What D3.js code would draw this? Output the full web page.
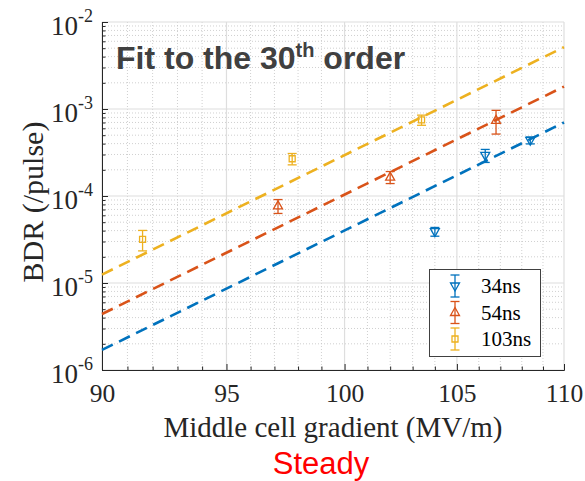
<!DOCTYPE html>
<html><head><meta charset="utf-8">
<script src="https://cdn.jsdelivr.net/npm/d3@7"></script>
<style>body{margin:0;background:#fff}</style>
</head><body>
<svg id="chart" width="585" height="481"></svg>
<script>
// Breakdown rate vs. middle-cell gradient for three pulse lengths
const seriesNames = ["34ns", "54ns", "103ns"];
const seriesColors = ["#0072BD", "#D95319", "#EDB120"];
const seriesMarkers = ["down", "up", "square"];

const gradient34 = [104.0, 106.3, 108.4];
const bdr34 = [3.9e-5, 2.93e-4, 4.37e-4];
const err34 = [4.5e-6, 5e-5, 4e-5];

const gradient54 = [97.15, 102.0, 106.8];
const bdr54 = [7.7e-5, 1.65e-4, 7.4e-4];
const err54 = [1.4e-5, 2.6e-5, 2.25e-4];

const gradient103 = [91.6, 97.75, 103.4];
const bdr103 = [3.18e-5, 2.68e-4, 7.5e-4];
const err103 = [8.4e-6, 4e-5, 1e-4];

// Power-law fits: BDR = coefficient * (E / 90)^order
const fitOrder = 30;
const fitCoef = [1.7e-6, 4.4e-6, 1.25e-5];
const fitRange = [90, 110];

const xTicks = [90, 95, 100, 105, 110];
const yExponents = [-6, -5, -4, -3, -2];

const series = seriesNames.map((name, i) => ({
  name, color: seriesColors[i], marker: seriesMarkers[i], coef: fitCoef[i],
  points: [[gradient34, bdr34, err34], [gradient54, bdr54, err54], [gradient103, bdr103, err103]][i]
    .reduce((acc, arr, k) => { arr.forEach((v, j) => { acc[j] = acc[j] || {}; acc[j][["x","y","e"][k]] = v; }); return acc; }, [])
}));

const svg = d3.select("#chart");
svg.append("rect").attr("width", 585).attr("height", 481).attr("fill", "#fff");

const L = 102, R = 564, T = 22, B = 370;
const x = d3.scaleLog().domain([90, 110]).range([L, R]);
const y = d3.scaleLog().domain([1e-6, 1e-2]).range([B, T]);

const serif = "'Liberation Serif','Times New Roman',serif";
const sans = "'Liberation Sans',Arial,sans-serif";

// minor values
const xMinor = d3.range(91, 110).filter(v => !xTicks.includes(v));
const yMinor = [];
yExponents.slice(0, -1).forEach(e => { for (let m = 2; m <= 9; m++) yMinor.push(m * Math.pow(10, e)); });
const yMajor = yExponents.map(e => Math.pow(10, e));

// grid
const grid = svg.append("g");
grid.selectAll(".gxm").data(xMinor).join("line")
  .attr("x1", d => x(d)).attr("x2", d => x(d)).attr("y1", T).attr("y2", B)
  .attr("stroke", "#c4c4c4").attr("stroke-width", 0.8).attr("stroke-dasharray", "1,2");
grid.selectAll(".gym").data(yMinor).join("line")
  .attr("x1", L).attr("x2", R).attr("y1", d => y(d)).attr("y2", d => y(d))
  .attr("stroke", "#c4c4c4").attr("stroke-width", 0.8).attr("stroke-dasharray", "1,2");
grid.selectAll(".gx").data(xTicks).join("line")
  .attr("x1", d => x(d)).attr("x2", d => x(d)).attr("y1", T).attr("y2", B)
  .attr("stroke", "#dedede").attr("stroke-width", 1.2);
grid.selectAll(".gy").data(yMajor).join("line")
  .attr("x1", L).attr("x2", R).attr("y1", d => y(d)).attr("y2", d => y(d))
  .attr("stroke", "#dedede").attr("stroke-width", 1.2);

// axes
const axisColor = "#262626";
const xAxis = d3.axisBottom(x).tickValues(xTicks).tickFormat(d3.format("d")).tickSize(-6).tickPadding(14);
const gx = svg.append("g").attr("transform", `translate(0,${B})`).call(xAxis);
gx.select(".domain").attr("stroke", axisColor);
gx.selectAll(".tick line").attr("stroke", axisColor);
gx.selectAll(".tick text").attr("font-family", serif).attr("font-size", 25.5).attr("fill", "#262626").attr("dy", "0.71em");
const gxm = svg.append("g").attr("transform", `translate(0,${B})`)
  .call(d3.axisBottom(x).tickValues(xMinor).tickFormat("").tickSize(-3.5));
gxm.select(".domain").remove();
gxm.selectAll(".tick line").attr("stroke", axisColor);

const yAxis = d3.axisLeft(y).tickValues(yMajor).tickFormat("").tickSize(-6);
const gy = svg.append("g").attr("transform", `translate(${L},0)`).call(yAxis);
gy.select(".domain").attr("stroke", axisColor);
gy.selectAll(".tick line").attr("stroke", axisColor);
const gym = svg.append("g").attr("transform", `translate(${L},0)`)
  .call(d3.axisLeft(y).tickValues(yMinor).tickFormat("").tickSize(-3.5));
gym.select(".domain").remove();
gym.selectAll(".tick line").attr("stroke", axisColor);

// y tick labels as 10^n
const yl = svg.append("g").selectAll("text").data(yExponents).join("text")
  .attr("x", 93).attr("y", d => y(Math.pow(10, d)) + 13)
  .attr("text-anchor", "end").attr("font-family", serif).attr("fill", "#262626");
yl.append("tspan").attr("font-size", 27).text("10");
yl.append("tspan").attr("font-size", 18).attr("dy", -13).text(d => "-" + Math.abs(d));

// fit lines
const line = d3.line().x(d => x(d[0])).y(d => y(d[1]));
svg.append("g").selectAll("path").data(series).join("path")
  .attr("d", s => line(fitRange.map(e => [e, s.coef * Math.pow(e / 90, fitOrder)])))
  .attr("fill", "none").attr("stroke", s => s.color).attr("stroke-width", 2.6)
  .attr("stroke-dasharray", "12,7");

// markers
function markerPath(type) {
  if (type === "up") return "M0,-5L4.5,3L-4.5,3Z";
  if (type === "down") return "M0,5L4.5,-3L-4.5,-3Z";
  return "M-3,-3H3V3H-3Z";
}

// error bars and markers
const cap = 4.5;
const sg = svg.append("g").selectAll("g").data(series).join("g")
  .attr("stroke", s => s.color).attr("fill", "none").attr("stroke-width", 1.3);
sg.each(function (s) {
  const g = d3.select(this);
  const pts = g.selectAll("g").data(s.points).join("g");
  pts.append("line").attr("x1", d => x(d.x)).attr("x2", d => x(d.x))
    .attr("y1", d => y(d.y + d.e)).attr("y2", d => y(d.y - d.e));
  pts.append("line").attr("x1", d => x(d.x) - cap).attr("x2", d => x(d.x) + cap)
    .attr("y1", d => y(d.y + d.e)).attr("y2", d => y(d.y + d.e));
  pts.append("line").attr("x1", d => x(d.x) - cap).attr("x2", d => x(d.x) + cap)
    .attr("y1", d => y(d.y - d.e)).attr("y2", d => y(d.y - d.e));
  pts.append("path").attr("d", markerPath(s.marker))
    .attr("transform", d => `translate(${x(d.x)},${y(d.y)})`);
});

// legend
const lg = svg.append("g");
lg.append("rect").attr("x", 429.5).attr("y", 269.5).attr("width", 111).attr("height", 87)
  .attr("fill", "#fff").attr("stroke", "#404040").attr("stroke-width", 1);
const rowY = [286, 312.5, 339];
const li = lg.selectAll("g").data(series).join("g")
  .attr("transform", (s, i) => `translate(455,${rowY[i]})`);
li.append("line").attr("y1", -11).attr("y2", 11).attr("stroke", s => s.color).attr("stroke-width", 1.3);
li.append("line").attr("x1", -cap).attr("x2", cap).attr("y1", -11).attr("y2", -11).attr("stroke", s => s.color).attr("stroke-width", 1.3);
li.append("line").attr("x1", -cap).attr("x2", cap).attr("y1", 11).attr("y2", 11).attr("stroke", s => s.color).attr("stroke-width", 1.3);
li.append("path").attr("d", s => markerPath(s.marker)).attr("fill", "none")
  .attr("stroke", s => s.color).attr("stroke-width", 1.3);
li.append("text").attr("x", 26).attr("y", 7).attr("font-family", serif).attr("font-size", 21)
  .attr("fill", "#000").text(s => s.name);

// title inside the axes
const title = svg.append("text").attr("x", 116).attr("y", 69)
  .attr("font-family", sans).attr("font-weight", "bold").attr("font-size", 32).attr("fill", "#404040");
title.append("tspan").text("Fit to the " + fitOrder);
title.append("tspan").attr("font-size", 20).attr("dy", -12).text("th");
title.append("tspan").attr("dy", 12).text(" order");

// axis labels
svg.append("text").attr("x", 333).attr("y", 437).attr("text-anchor", "middle")
  .attr("font-family", serif).attr("font-size", 29).attr("fill", "#262626")
  .text("Middle cell gradient (MV/m)");
svg.append("text").attr("transform", "translate(43,202) rotate(-90)").attr("text-anchor", "middle")
  .attr("font-family", serif).attr("font-size", 30).attr("fill", "#262626")
  .text("BDR (/pulse)");
svg.append("text").attr("x", 321).attr("y", 474).attr("text-anchor", "middle")
  .attr("font-family", sans).attr("font-size", 31).attr("fill", "#FF0000")
  .text("Steady");
</script>
</body></html>
